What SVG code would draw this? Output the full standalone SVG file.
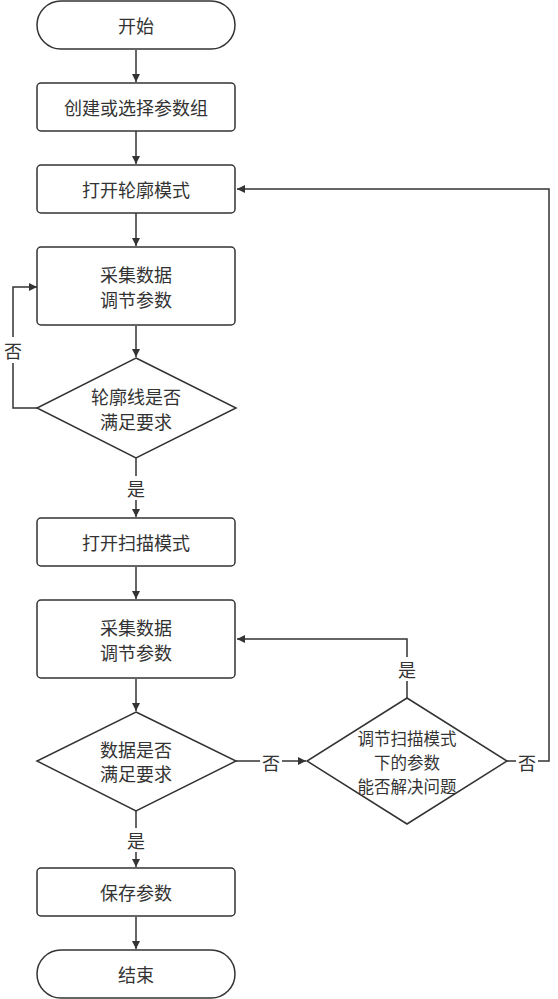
<svg xmlns="http://www.w3.org/2000/svg" width="558" height="999" viewBox="0 0 558 999">
<defs>
<marker id="ah" viewBox="0 0 10 10" refX="10" refY="5" markerWidth="8" markerHeight="8" markerUnits="userSpaceOnUse" orient="auto">
<path d="M0,0 L10,5 L0,10 z" fill="#333"/>
</marker>
<style>
.n{fill:#fff;stroke:#333;stroke-width:1.5}
.t{font-family:"Noto Sans CJK SC","Noto Sans",sans-serif;font-size:18px;fill:#333;text-anchor:middle;dominant-baseline:central}
.s{font-size:16.5px}
.e{fill:none;stroke:#333;stroke-width:1.5;marker-end:url(#ah)}
.lb{fill:#fff;stroke:none}
</style>
</defs>
<rect width="558" height="999" fill="#fff"/>
<g id="edges">
<path class="e" d="M136,50 V82"/>
<path class="e" d="M136,131 V164"/>
<path class="e" d="M136,213 V246"/>
<path class="e" d="M136,326 V357"/>
<path class="e" d="M37,408 H13 V287 H37"/>
<path class="e" d="M136,458 V517"/>
<path class="e" d="M136,567 V599"/>
<path class="e" d="M136,679 V711"/>
<path class="e" d="M236,761 H306"/>
<path class="e" d="M407,698 V639 H237"/>
<path class="e" d="M507,761 H549 V189 H237"/>
<path class="e" d="M136,811 V867"/>
<path class="e" d="M136,917 V949"/>
<rect class="lb" x="4" y="337" width="18" height="26"/>
<text class="t" x="13" y="350">否</text>
<rect class="lb" x="126" y="476" width="20" height="24"/>
<text class="t" x="136" y="488">是</text>
<rect class="lb" x="260" y="750" width="22" height="24"/>
<text class="t" x="271" y="762">否</text>
<rect class="lb" x="397" y="657" width="20" height="24"/>
<text class="t" x="407" y="669">是</text>
<rect class="lb" x="516" y="750" width="22" height="24"/>
<text class="t" x="527" y="762">否</text>
<rect class="lb" x="126" y="828" width="20" height="24"/>
<text class="t" x="136" y="840">是</text>
</g>
<g id="start">
<rect class="n" x="37" y="1" width="198" height="48" rx="24"/>
<text class="t" x="136" y="25">开始</text>
</g>
<g id="create">
<rect class="n" x="37" y="83" width="198" height="48" rx="4"/>
<text class="t" x="136" y="107">创建或选择参数组</text>
</g>
<g id="contour">
<rect class="n" x="37" y="165" width="198" height="48" rx="4"/>
<text class="t" x="136" y="189">打开轮廓模式</text>
</g>
<g id="collect1">
<rect class="n" x="37" y="247" width="198" height="78" rx="4"/>
<text class="t"><tspan x="136" y="274">采集数据</tspan><tspan x="136" y="299">调节参数</tspan></text>
</g>
<g id="check1">
<polygon class="n" points="136,358 236,408 136,458 37,408"/>
<text class="t"><tspan x="136" y="396">轮廓线是否</tspan><tspan x="136" y="421">满足要求</tspan></text>
</g>
<g id="scan">
<rect class="n" x="37" y="518" width="198" height="48" rx="4"/>
<text class="t" x="136" y="542">打开扫描模式</text>
</g>
<g id="collect2">
<rect class="n" x="37" y="600" width="198" height="78" rx="4"/>
<text class="t"><tspan x="136" y="627">采集数据</tspan><tspan x="136" y="652">调节参数</tspan></text>
</g>
<g id="check2">
<polygon class="n" points="136,712 236,761 136,811 37,761"/>
<text class="t"><tspan x="136" y="749">数据是否</tspan><tspan x="136" y="773">满足要求</tspan></text>
</g>
<g id="check3">
<polygon class="n" points="407,698 507,761 407,824 307,761"/>
<text class="t s"><tspan x="407" y="738">调节扫描模式</tspan><tspan x="407" y="762">下的参数</tspan><tspan x="407" y="786">能否解决问题</tspan></text>
</g>
<g id="save">
<rect class="n" x="37" y="868" width="198" height="48" rx="4"/>
<text class="t" x="136" y="892">保存参数</text>
</g>
<g id="end">
<rect class="n" x="37" y="950" width="198" height="48" rx="24"/>
<text class="t" x="136" y="974">结束</text>
</g>
</svg>
